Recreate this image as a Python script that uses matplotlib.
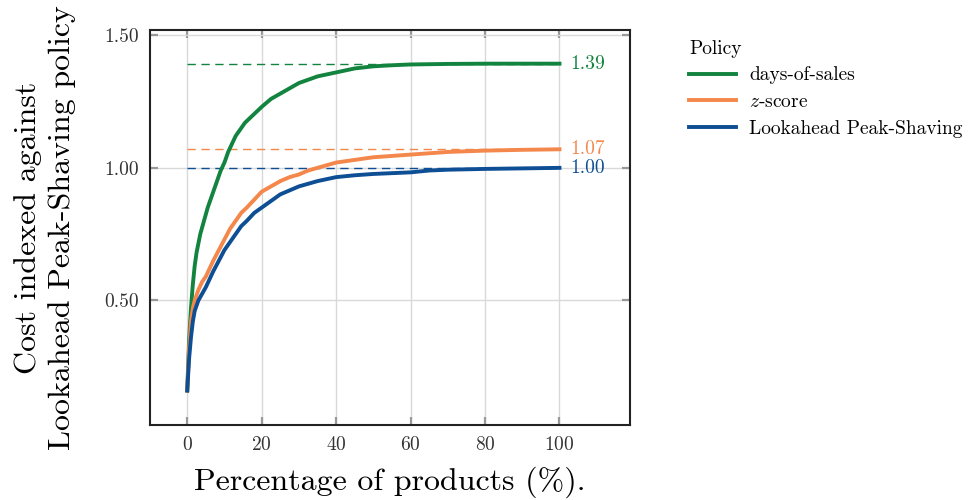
import numpy as np
import matplotlib
matplotlib.use("Agg")
import matplotlib.pyplot as plt
from matplotlib.ticker import FormatStrFormatter

plt.rcParams['font.family'] = 'serif'
plt.rcParams['font.serif'] = ['cmr10', 'DejaVu Serif']
plt.rcParams['mathtext.fontset'] = 'cm'
plt.rcParams['axes.unicode_minus'] = False
plt.rcParams['axes.formatter.use_mathtext'] = True

# cumulative share of products (%) vs cost index
dos_x = [0, 0.5, 1, 1.5, 2, 2.5, 3.5, 4.5, 5.5, 6.5, 8, 9, 10, 11, 12, 13, 14, 15.5, 17, 18.5, 20,
         22.5, 25, 27.5, 30, 35, 40, 45, 50, 55, 60, 70, 80, 100]
dos_y = [0.16, 0.35, 0.47, 0.56, 0.63, 0.68, 0.75, 0.80, 0.85, 0.89, 0.95, 0.99, 1.02, 1.06, 1.09, 1.12, 1.14, 1.17, 1.19, 1.21, 1.23,
         1.26, 1.28, 1.30, 1.32, 1.345, 1.36, 1.375, 1.383, 1.387, 1.39, 1.392, 1.393, 1.393]

z_x = [0, 0.5, 1, 1.5, 2, 3, 4, 5, 6, 7, 8.5, 10, 11.5, 13, 14.5, 16, 18, 20, 22.5, 25, 27.5, 30, 32.5,
       35, 40, 45, 50, 55, 60, 65, 70, 80, 90, 100]
z_y = [0.16, 0.32, 0.42, 0.47, 0.50, 0.54, 0.57, 0.59, 0.62, 0.65, 0.69, 0.73, 0.77, 0.80, 0.83, 0.85, 0.88, 0.91, 0.93, 0.95, 0.965, 0.975, 0.99,
       1.0, 1.02, 1.03, 1.04, 1.045, 1.05, 1.055, 1.06, 1.065, 1.068, 1.07]

lps_x = [0, 0.5, 1, 1.5, 2, 3, 4, 5, 6, 7, 8.5, 10, 11.5, 13, 14.5, 16, 18, 20, 22.5, 25, 27.5, 30, 32.5,
         35, 40, 45, 50, 55, 60, 65, 70, 80, 90, 100]
lps_y = [0.16, 0.28, 0.36, 0.42, 0.46, 0.50, 0.525, 0.55, 0.58, 0.61, 0.65, 0.69, 0.72, 0.75, 0.78, 0.80, 0.83, 0.85, 0.875, 0.90, 0.915, 0.93, 0.94,
         0.95, 0.965, 0.972, 0.977, 0.98, 0.983, 0.99, 0.993, 0.996, 0.998, 1.0]

names = ['days-of-sales', '$z$-score', 'Lookahead Peak-Shaving']
colors = ['#12843f', '#f4874b', '#0d4e94']
final_vals = [1.39, 1.07, 1.00]

fig = plt.figure(figsize=(9.76, 5), dpi=100)
ax = fig.add_axes([0.1537, 0.15, 0.492, 0.79])

series = [(dos_x, dos_y), (z_x, z_y), (lps_x, lps_y)]
for (xs, ys), name, c, v in zip(series, names, colors, final_vals):
    ax.plot(xs, ys, color=c, lw=2.8, label=name, zorder=3)
    ax.hlines(v, 0, 100, colors=c, linestyles=(0, (6, 4)), lw=1.0, zorder=2)
    ax.text(103, v, f'{v:.2f}', color=c, fontsize=14, va='center', ha='left')

ax.set_xlim(-10, 119)
ax.set_ylim(0.03, 1.52)
ax.set_xticks([0, 20, 40, 60, 80, 100])
ax.set_yticks([0.5, 1.0, 1.5])
ax.yaxis.set_major_formatter(FormatStrFormatter('%.2f'))
ax.grid(True, color='#d9d9d9', lw=1.0, zorder=0)
ax.tick_params(direction='in', length=6, width=1.6, color='#999999',
               labelsize=14, labelcolor='#333333', top=True, right=True, pad=8)
for sp in ax.spines.values():
    sp.set_color('#222222')
    sp.set_linewidth(1.5)

ax.set_xlabel('Percentage of products (%).', fontsize=23, labelpad=9)
ax.set_ylabel('Cost indexed against\nLookahead Peak-Shaving policy', fontsize=23,
              labelpad=20, linespacing=1.3)

leg = ax.legend(loc='upper left', bbox_to_anchor=(1.086, 1.02), frameon=False,
                title='Policy', fontsize=14, title_fontsize=14, alignment='left',
                handlelength=2.4, handletextpad=0.7, labelspacing=0.45)

fig.savefig('out.png', dpi=100)
